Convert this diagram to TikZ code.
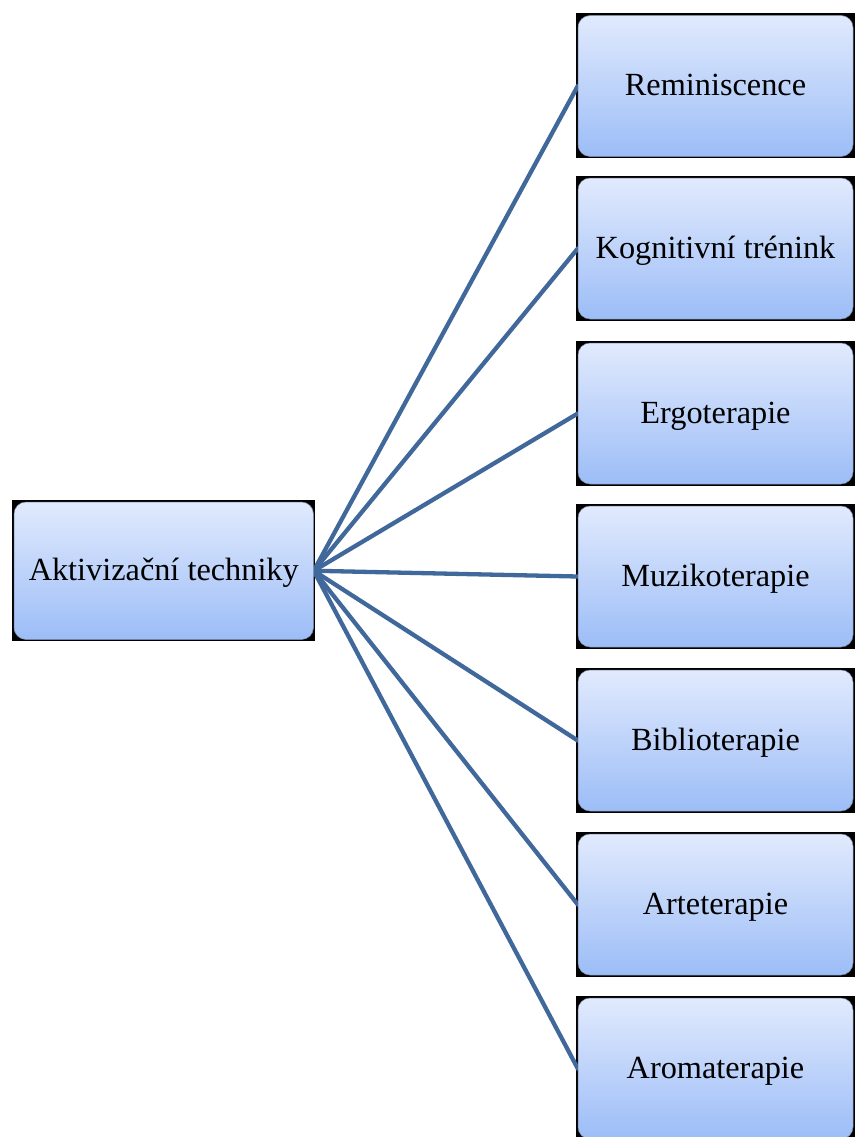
\documentclass[tikz,border=0pt]{standalone}
\usepackage{fontspec}
\setmainfont{Liberation Serif}
\usetikzlibrary{backgrounds,calc}
\definecolor{boxtop}{RGB}{225,234,253}
\definecolor{boxbottom}{RGB}{156,189,247}
\definecolor{boxedge}{RGB}{120,135,160}
\definecolor{linkblue}{RGB}{65,104,155}
\tikzset{
  tbox/.style={rectangle, rounded corners=12pt, top color=boxtop, bottom color=boxbottom,
    draw=boxedge, line width=0.5pt, inner sep=0pt, text=black,
    text height=24pt, text depth=4pt,
    font=\fontsize{32.3}{38}\selectfont},
  rbox/.style={tbox, minimum width=275pt, minimum height=141pt},
  cbox/.style={tbox, minimum width=299.5pt, minimum height=137.5pt},
  link/.style={draw=linkblue, line width=4.3pt, line cap=round},
  frame/.style={fill=black}
}
\begin{document}
\begin{tikzpicture}[x=1pt,y=-1pt]
\useasboundingbox (0,0) rectangle (855,1137);

% central topic
\node[cbox] (c) at (163.75,570.75) {Aktivizační techniky};

% branch boxes
\node[rbox] (r1) at (715.5,86) {Reminiscence};
\node[rbox] (r2) at (715.5,248.5) {Kognitivní trénink};
\node[rbox] (r3) at (715.5,413.5) {Ergoterapie};
\node[rbox] (r4) at (715.5,576.5) {Muzikoterapie};
\node[rbox] (r5) at (715.5,740.5) {Biblioterapie};
\node[rbox] (r6) at (715.5,904.5) {Arteterapie};
\node[rbox] (r7) at (715.5,1068.5) {Aromaterapie};

\begin{scope}[on background layer]
  % dark frames behind the rounded boxes
  \foreach \n in {c,r1,r2,r3,r4,r5,r6,r7}
    \fill[frame] ($(\n.north west)+(-2pt,2pt)$) rectangle ($(\n.south east)+(1.5pt,-1.5pt)$);
  % connectors from the central topic
  \foreach \n in {r1,r2,r3,r4,r5,r6,r7}
    \draw[link] (c.east) -- (\n.west);
\end{scope}
\end{tikzpicture}
\end{document}
